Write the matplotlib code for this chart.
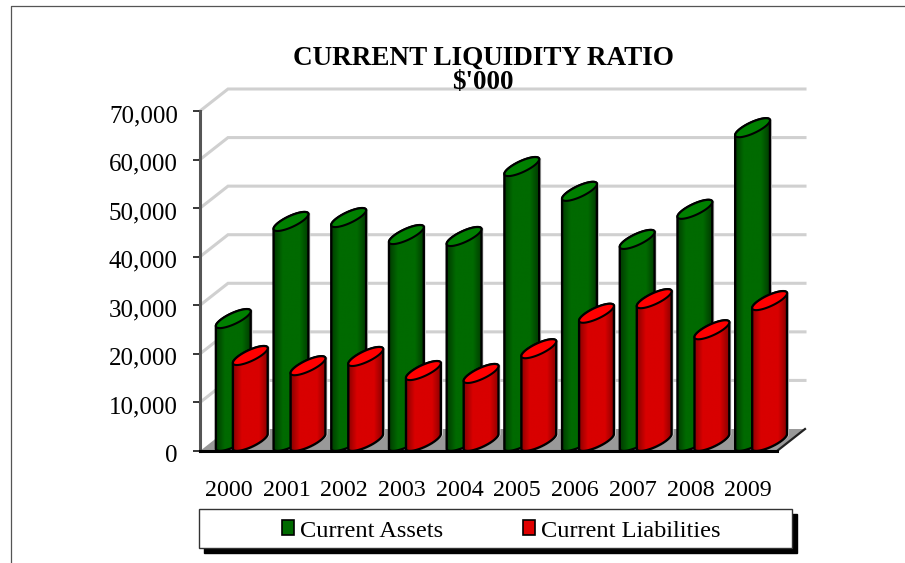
import numpy as np
import matplotlib
matplotlib.use("Agg")
import matplotlib.pyplot as plt
from matplotlib.patches import Polygon, Patch, Rectangle
from matplotlib.lines import Line2D
from matplotlib.transforms import ScaledTranslation

years = ['2000', '2001', '2002', '2003', '2004', '2005', '2006', '2007', '2008', '2009']
current_assets = [25300, 45300, 46100, 42600, 42200, 56600, 51500, 41600, 47800, 64600]
current_liabilities = [17700, 15600, 17500, 14600, 14000, 19100, 26400, 29400, 23000, 29000]
y_ticks = [0, 10000, 20000, 30000, 40000, 50000, 60000, 70000]
y_labels = ['0', '10,000', '20,000', '30,000', '40,000', '50,000', '60,000', '70,000']
title = "CURRENT LIQUIDITY RATIO\n$'000"

plt.rcParams['font.family'] = 'Liberation Serif'
W, H = 905, 563
fig = plt.figure(figsize=(W / 100, H / 100), dpi=100, facecolor='white')
ax = fig.add_axes([200 / W, 1 - 451 / H, 577 / W, 340 / H])
ax.set_xlim(-0.5, 9.5)
ax.set_ylim(0, 70000)

# projection depth, in data units
DX = 28 / 57.7
DY = 22 / 340 * 70000

# back wall and side wall grid
for v in y_ticks[1:]:
    ax.plot([-0.5, -0.5 + DX, 9.5 + DX], [v, v + DY, v + DY], color='#d0d0d0', lw=2.2,
            clip_on=False, zorder=1, solid_joinstyle='miter')
# floor
ax.add_patch(Polygon([(-0.5, 0), (-0.5 + DX, DY), (9.5 + DX, DY), (9.5, 0)], closed=True,
                     facecolor='#999999', edgecolor='none', clip_on=False, zorder=2))
ax.plot([9.5, 9.5 + DX], [0, DY], color='#222222', lw=1.6, clip_on=False, zorder=2.5)

WID = 22 / 57.7   # front width of the cylinder base
BDX = 13.5 / 57.7   # half depth, x
BDY = 9.5 / 340 * 70000   # half depth, y
t = np.linspace(0, 2 * np.pi, 121)


def ring(cx, cy):
    return cx + np.cos(t) * WID / 2 + np.sin(t) * BDX, cy + np.sin(t) * BDY


def cylinder(left, value, z, dark, mid, top):
    half = np.hypot(WID / 2, BDX)
    ang = np.arctan2(BDX, WID / 2)
    cx = left + half
    a = np.linspace(ang + np.pi, ang + 2 * np.pi, 80)
    bx = cx + np.cos(a) * WID / 2 + np.sin(a) * BDX
    by = BDY + np.sin(a) * BDY
    a2 = a - np.pi
    tx = cx + np.cos(a2) * WID / 2 + np.sin(a2) * BDX
    ty = value + BDY + np.sin(a2) * BDY
    xs = np.r_[bx, tx]
    ys = np.r_[by, ty]
    body = Polygon(np.c_[xs, ys], closed=True, facecolor='none', edgecolor='none',
                   clip_on=False, zorder=z)
    ax.add_patch(body)
    # soft shadow
    ax.add_patch(Polygon(np.c_[xs + 0.035, ys], closed=True, facecolor='#d4d4d4', edgecolor='none',
                         clip_on=False, zorder=z - 0.2))
    cols = np.array([matplotlib.colors.to_rgb(c) for c in (dark, mid, mid, mid, dark)])
    pos = np.array([0, .25, .5, .75, 1])
    u = np.linspace(0, 1, 64)
    grad = np.stack([np.interp(u, pos, cols[:, i]) for i in range(3)], axis=-1)[None, :, :]
    im = ax.imshow(grad, extent=(xs.min(), xs.max(), 0, ys.max()), aspect='auto',
                   origin='lower', zorder=z, interpolation='bilinear')
    im.set_clip_box(fig.bbox)
    im.set_clip_path(body)
    ax.add_patch(Polygon(np.c_[xs, ys], closed=True, facecolor='none', edgecolor='black', lw=1.7,
                         clip_on=False, zorder=z + 0.1))
    ex, ey = ring(cx, value + BDY)
    ax.add_patch(Polygon(np.c_[ex, ey], closed=True, facecolor=top, edgecolor='black', lw=1.5,
                         clip_on=False, zorder=z + 0.2))


for i in range(len(years)):
    cylinder(i - 0.225, current_assets[i], 3 + i * 2, '#003c00', '#006a00', '#008000')
    cylinder(i + 0.07, current_liabilities[i], 4 + i * 2, '#8c0000', '#d80000', '#ff0000')

ax.set_xlim(-0.5, 9.5)
ax.set_ylim(0, 70000)
ax.patch.set_visible(False)
for s in ('top', 'right'):
    ax.spines[s].set_visible(False)
ax.spines['left'].set_color('#555555')
ax.spines['left'].set_linewidth(2.2)
ax.spines['bottom'].set_color('black')
ax.spines['bottom'].set_linewidth(2.2)
ax.spines['bottom'].set_zorder(40)
ax.set_xticks(range(len(years)), years)
ax.set_yticks(y_ticks, y_labels)
ax.tick_params(axis='x', length=0, pad=21, labelsize=17.3)
ax.tick_params(axis='y', length=5, width=1.1, pad=11, labelsize=18, color='black')
for lab in ax.get_yticklabels():
    lab.set_transform(lab.get_transform() + ScaledTranslation(0, -2.5 / 100, fig.dpi_scale_trans))

fig.text(483 / W, 1 - 46 / H, title, ha='center', va='top', ma='center',
         fontsize=19.5, fontweight='bold', linespacing=0.95)

# outer frame
fig.add_artist(Line2D([11 / W, 11 / W, 1], [0, 1 - 6 / H, 1 - 6 / H], color='#555555', lw=0.9))

# legend box with shadow
fig.add_artist(Rectangle((204 / W, 1 - 553 / H), 593 / W, 39 / H, transform=fig.transFigure,
                         facecolor='black', edgecolor='black', zorder=5))
fig.add_artist(Rectangle((199 / W, 1 - 548 / H), 593 / W, 39 / H, transform=fig.transFigure,
                         facecolor='white', edgecolor='#333333', lw=1, zorder=6))
handles = [Patch(facecolor='#006a00', edgecolor='black', lw=1.2, label='Current Assets'),
           Patch(facecolor='#e00000', edgecolor='black', lw=1.2, label='Current Liabilities')]
leg = fig.legend(handles=handles, loc='center', bbox_to_anchor=(501 / W, 1 - 531 / H), ncol=2,
                 frameon=False, fontsize=17.6, handlelength=0.5, handleheight=0.55,
                 handletextpad=0.25, columnspacing=3.25, borderpad=0)
leg.set_zorder(7)

fig.savefig('out.png', dpi=100)
